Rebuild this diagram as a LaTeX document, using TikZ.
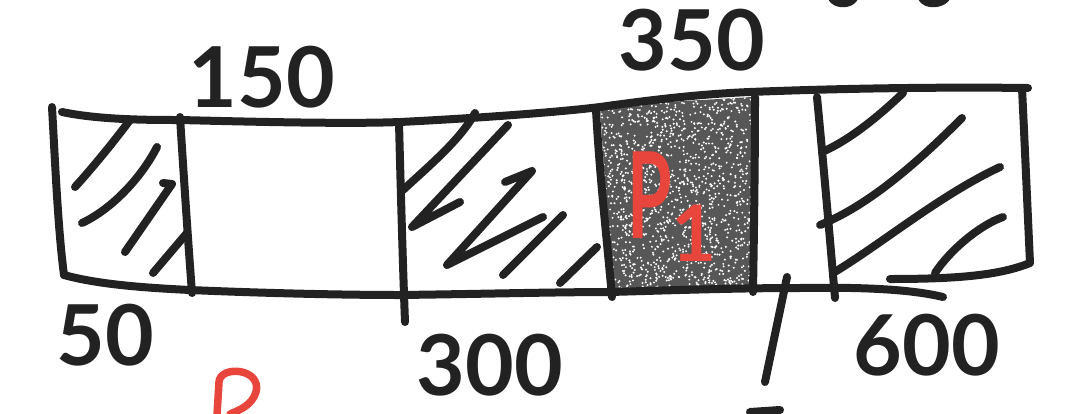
\documentclass[tikz,border=0pt]{standalone}
\usepackage{fontspec}
\setmainfont{Lato}
\definecolor{penred}{HTML}{E8453C}
\definecolor{ink}{HTML}{222222}
\begin{document}
\begin{tikzpicture}[x=1pt,y=-1pt,
 pen/.style={draw=ink,line width=8pt,line cap=round,line join=round},
 redpen/.style={draw=penred,line width=7.5pt,line cap=round,line join=round},
 num/.style={text=ink,font=\bfseries\fontsize{84}{84}\selectfont,inner sep=0pt},
]
\useasboundingbox (0,0) rectangle (1079,413);
\clip (0,0) rectangle (1079,413);
% grey cell with speckle
\fill[black!66] (600,106) -- (752,97) -- (755,290) -- (612,292) -- cycle;
\pgfmathsetseed{7}
\begin{scope}
\clip (600,106) -- (752,97) -- (755,290) -- (612,292) -- cycle;
\foreach \i in {1,...,1400}{
  \fill[white] ({600+155*rnd},{96+196*rnd}) circle (1.1);
}
\end{scope}
% outline
\draw[pen] (52,107) .. controls (55,160) and (58,230) .. (64,275);
\draw[pen] (62,112) .. controls (100,120) and (150,120) .. (180,120) .. controls (260,122) and (350,124) .. (400,122) .. controls (480,118) and (560,112) .. (600,107) .. controls (650,100) and (700,94) .. (750,92) .. controls (850,88) and (950,87) .. (1028,88);
\draw[pen] (64,275) .. controls (100,285) and (150,288) .. (190,290) .. controls (260,293) and (340,295) .. (400,295) .. controls (480,294) and (560,292) .. (610,292) .. controls (680,290) and (740,288) .. (800,288) .. controls (860,287) and (910,289) .. (943,297);
\draw[pen] (1022,88) .. controls (1025,150) and (1028,220) .. (1030,263) .. controls (1000,275) and (960,279) .. (890,279);
% dividers
\draw[pen] (180,117) .. controls (184,180) and (188,240) .. (192,293);
\draw[pen] (399,123) .. controls (401,200) and (403,270) .. (405,322);
\draw[pen] (596,110) .. controls (600,180) and (607,240) .. (612,297);
\draw[pen] (755,97) .. controls (755,160) and (754,230) .. (753,292);
\draw[pen] (817,97) .. controls (824,170) and (830,240) .. (835,298);
\draw[pen] (787,277) -- (765,382);
% hatching cell 1
\draw[pen] (75,187) .. controls (95,165) and (115,140) .. (130,120);
\draw[pen] (82,223) .. controls (110,210) and (140,180) .. (157,147);
\draw[pen] (125,252) -- (172,184) -- (163,183);
\draw[pen] (153,273) -- (187,233);
% hatching cell 3
\draw[pen] (403,190) .. controls (430,165) and (460,140) .. (475,113);
\draw[pen] (508,125) -- (412,227) -- (460,202);
\draw[pen] (505,182) -- (532,171) -- (447,265) -- (543,217);
\draw[pen] (563,215) -- (503,275);
\draw[pen] (560,283) -- (597,247);
% hatching right cell
\draw[pen] (822,152) .. controls (850,140) and (880,115) .. (903,93);
\draw[pen] (820,225) .. controls (870,205) and (920,160) .. (962,118);
\draw[pen] (833,273) .. controls (880,245) and (940,195) .. (1000,167);
\draw[pen] (935,273) .. controls (950,250) and (980,225) .. (1003,217);
% labels
\node[num] (n150) at (262,77) {150};
\node[num] (n350) at (692,40) {350};
\node[num] (n50) at (105,335) {50};
\node[num] (n300) at (490,365) {300};
\node[num] (n600) at (927,345) {600};
\node[text=penred,inner sep=0pt,font=\bfseries] (p1) at (672,207) {\fontsize{120}{120}\selectfont\scalebox{0.6}[1]{P}\raisebox{-23pt}{\fontsize{78}{78}\selectfont 1}};
% partial strokes at the edges
\draw[pen] (832,-2) .. controls (836,5) and (850,5) .. (854,-2);
\draw[pen] (922,-2) .. controls (926,5) and (940,5) .. (946,-2);
\draw[redpen] (217,415) -- (219,382) .. controls (220,365) and (262,368) .. (256,392) .. controls (252,405) and (240,410) .. (230,414);
\draw[pen] (750,412) -- (780,410);
\end{tikzpicture}
\end{document}
